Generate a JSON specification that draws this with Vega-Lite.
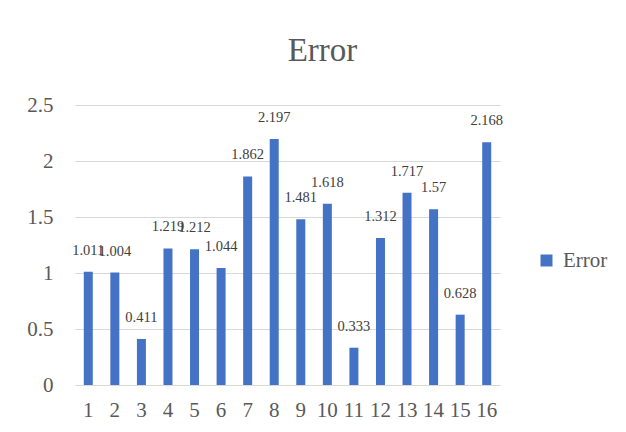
{
  "$schema": "https://vega.github.io/schema/vega-lite/v6.json",
  "autosize": "none",
  "width": 425,
  "height": 280,
  "padding": {"left": 75, "top": 105, "right": 126, "bottom": 47},
  "background": "white",
  "title": {"text": "Error", "font": "'Liberation Serif', 'Times New Roman', serif", "fontSize": 33, "fontWeight": "normal", "color": "#595959", "anchor": "middle", "frame": "group", "dx": 35, "offset": 26},
  "data": {"values": [
    {"x": "1", "Error": 1.011},
    {"x": "2", "Error": 1.004},
    {"x": "3", "Error": 0.411},
    {"x": "4", "Error": 1.219},
    {"x": "5", "Error": 1.212},
    {"x": "6", "Error": 1.044},
    {"x": "7", "Error": 1.862},
    {"x": "8", "Error": 2.197},
    {"x": "9", "Error": 1.481},
    {"x": "10", "Error": 1.618},
    {"x": "11", "Error": 0.333},
    {"x": "12", "Error": 1.312},
    {"x": "13", "Error": 1.717},
    {"x": "14", "Error": 1.57},
    {"x": "15", "Error": 0.628},
    {"x": "16", "Error": 2.168}
  ]},
  "config": {"view": {"stroke": null}, "font": "'Liberation Serif', 'Times New Roman', serif"},
  "encoding": {
    "x": {"field": "x", "type": "nominal", "sort": null, "title": null,
      "axis": {"labelAngle": 0, "labelFont": "'Liberation Serif', 'Times New Roman', serif", "labelFontSize": 21, "labelColor": "#595959", "ticks": false, "domainColor": "#d9d9d9", "labelPadding": 14}},
    "y": {"field": "Error", "type": "quantitative", "title": null,
      "scale": {"domain": [0, 2.5]},
      "axis": {"values": [0, 0.5, 1, 1.5, 2, 2.5], "format": "~g", "labelFont": "'Liberation Serif', 'Times New Roman', serif", "labelFontSize": 21, "labelColor": "#595959", "ticks": false, "domain": false, "gridColor": "#d9d9d9", "labelPadding": 22}}
  },
  "layer": [
    {"mark": {"type": "bar", "size": 9, "color": "#4472c4"},
     "encoding": {"color": {"datum": "Error", "scale": {"range": ["#4472c4"]},
       "legend": {"title": null, "orient": "none", "legendX": 461, "legendY": 145, "labelFont": "'Liberation Serif', 'Times New Roman', serif", "labelFontSize": 21, "labelColor": "#595959", "symbolType": "square", "symbolSize": 144, "labelOffset": 6}}}},
    {"mark": {"type": "text", "baseline": "bottom", "dy": -14, "fontSize": 14.5, "color": "#404040", "font": "'Liberation Serif', 'Times New Roman', serif"},
     "encoding": {"text": {"field": "Error", "type": "quantitative"}}}
  ]
}
